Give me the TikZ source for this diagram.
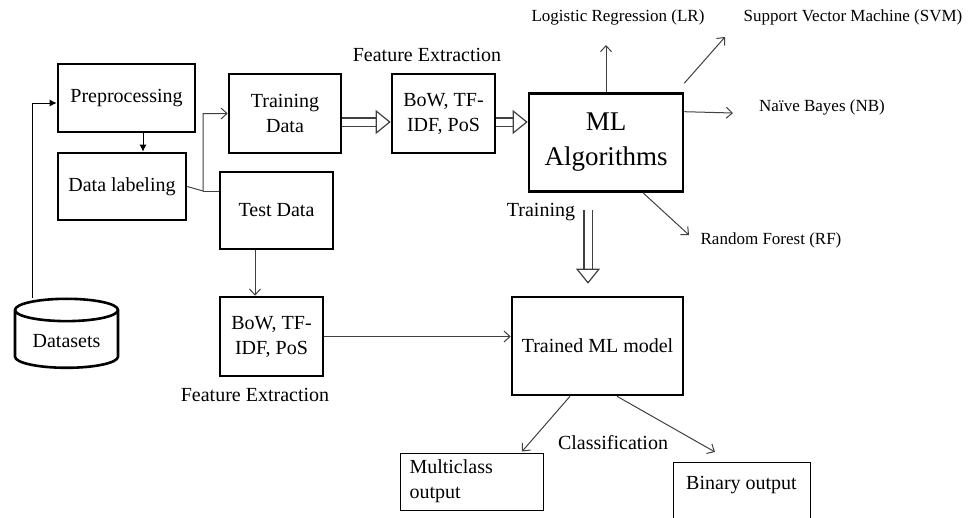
\documentclass[tikz,border=0pt]{standalone}
\usepackage{fontspec}
\setmainfont{Liberation Serif}
\usetikzlibrary{positioning,shapes.geometric,arrows.meta}

\begin{document}
\begin{tikzpicture}[x=1pt, y=-1pt,
    thickbox/.style={draw, line width=2.6pt, align=center, inner sep=0pt, font=\fontsize{20}{25}\selectfont},
    outbox/.style={draw, line width=1pt, inner sep=0pt, font=\fontsize{20}{25}\selectfont},
    txt/.style={font=\fontsize{20}{25}\selectfont},
    small/.style={font=\fontsize{17}{20}\selectfont},
    arr/.style={draw=black!75, line width=1pt, -{Straight Barb[length=6pt, width=11pt]}},
    farr/.style={line width=1pt, -{Latex[length=7pt, width=7pt]}},
    hollow/.style={draw=black!75, double, double distance=7pt, line width=1.2pt, -{Triangle[open, length=15pt, width=24pt]}}]
            \useasboundingbox (0,0) rectangle (979,517);

            \node[cylinder, shape border rotate=90, draw, line width=2.6pt, aspect=0.3, minimum width=103pt, minimum height=69pt, txt] (data) at (66.5,341.5) {Datasets};
            \node[thickbox, minimum width=137pt, minimum height=68pt] (prep) at (126.5,98) {Preprocessing};
            \node[thickbox, minimum width=128pt, minimum height=67pt] (label) at (122,186.5) {Data labeling};
            \node[thickbox, minimum width=112pt, minimum height=79pt] (train) at (285,113.5) {Training\\Data};
            \node[thickbox, minimum width=113pt, minimum height=77pt] (test) at (276.5,210.5) {Test Data};
            \node[thickbox, minimum width=103pt, minimum height=79pt] (fe1) at (443.5,113.5) {BoW, TF-\\IDF, PoS};
            \node[thickbox, minimum width=103pt, minimum height=79pt] (fe2) at (271.5,336.5) {BoW, TF-\\IDF, PoS};
            \node[thickbox, minimum width=154pt, minimum height=98pt, font=\fontsize{27}{35}\selectfont] (ml) at (606,142.5) {ML\\Algorithms};
            \node[thickbox, minimum width=171pt, minimum height=98pt] (trained) at (597.5,346) {Trained ML model};
            \node[outbox, minimum width=143pt, minimum height=57pt, text width=125pt, align=left] (multi) at (472,481.5) {Multiclass\\output};
            \node[outbox, anchor=north, minimum width=137pt, text height=20pt, text depth=44pt, inner ysep=7pt] (binary) at (741.5,462) {Binary output};

            \node[txt] (fetop) at (427,55) {Feature Extraction};
            \node[txt] (febot) at (255,395) {Feature Extraction};
            \node[txt] (trlabel) at (541,212) {Training};
            \node[txt] (classif) at (613,443) {Classification};
            \node[small] (lr) at (618,17) {Logistic Regression (LR)};
            \node[small] (svm) at (853,17) {Support Vector Machine (SVM)};
            \node[small] (nb) at (822,107) {Naïve Bayes (NB)};
            \node[small] (rf) at (771,240) {Random Forest (RF)};

            \coordinate (split) at (203,191);
            \coordinate (trtop) at (588,210);
            \coordinate (lrtip) at (606,45);
            \coordinate (svmtip) at (725,37);
            \coordinate (nbtip) at (733,113);
            \coordinate (rftip) at (689,235);

            \draw[farr] (data.north -| 32,0) |- ([yshift=-5pt]prep.west);
            \draw[farr] ([xshift=16.5pt]prep.south) -- ([xshift=16.5pt]prep.south |- label.north);
            \draw[arr] (label.east) -- (split) |- (train.west);
            \draw[draw=black!75, line width=1pt] (split) -- (split -| test.west);
            \draw[arr] ([xshift=-21.5pt]test.south) -- ([xshift=-21.5pt]test.south |- fe2.north);
            \draw[arr] (fe2.east) -- (fe2.east -| trained.west);
            \draw[hollow] ([yshift=-8.5pt]train.east) -- ([yshift=-8.5pt]train.east -| fe1.west);
            \draw[hollow] ([yshift=-8.5pt]fe1.east) -- ([yshift=-8.5pt]fe1.east -| ml.west);
            \draw[hollow] (trtop) -- ([yshift=12pt]trtop |- trained.north);
            \draw[arr] (ml.north) -- (lrtip);
            \draw[arr] ([yshift=9pt]ml.north east) -- (svmtip);
            \draw[arr] ([yshift=-19.5pt]ml.north east) -- (nbtip);
            \draw[arr] ([xshift=37pt]ml.south) -- (rftip);
            \draw[arr] ([xshift=-27.5pt]trained.south) -- ([xshift=50pt, yshift=1pt]multi.north);
            \draw[arr] ([xshift=19.5pt]trained.south) -- ([xshift=-26.5pt, yshift=10pt]binary.north);
        \end{tikzpicture}
\end{document}
